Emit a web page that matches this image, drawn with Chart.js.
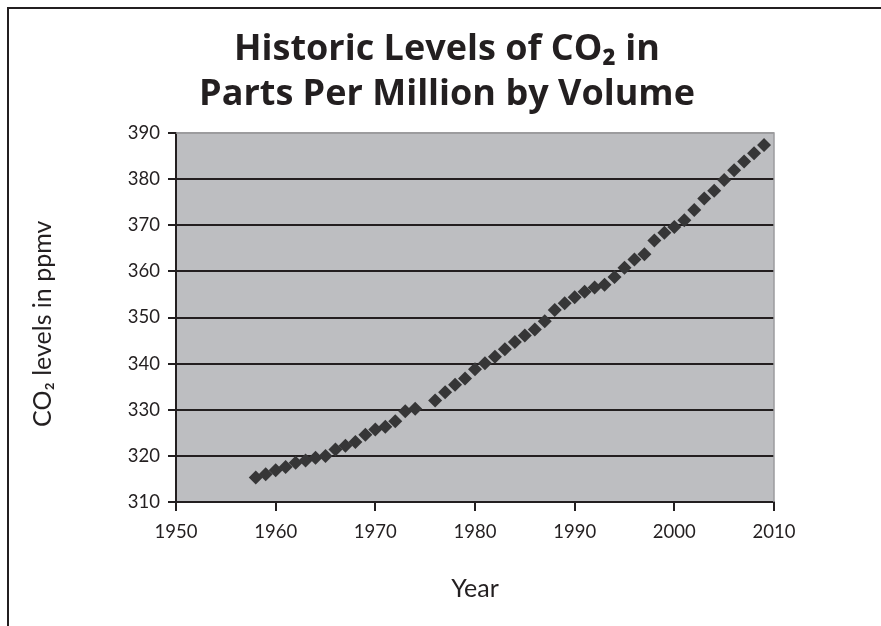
<!DOCTYPE html>
<html>
<head>
<meta charset="utf-8">
<script src="https://cdn.jsdelivr.net/npm/chart.js@4"></script>
<style>
  html, body { margin: 0; padding: 0; background: #ffffff; }
  #wrap { position: relative; width: 881px; height: 626px; }
  #frame { position: absolute; left: 7px; top: 7px; right: 0; bottom: 0;
           border-left: 2px solid #231f20; border-top: 2px solid #231f20; pointer-events: none; }
</style>
</head>
<body>
<div id="wrap">
  <canvas id="c" width="881" height="626"></canvas>
  <div id="frame"></div>
</div>
<script>
// Data (annual mean CO2, ppmv); 1975 absent in the chart
const years = [1958,1959,1960,1961,1962,1963,1964,1965,1966,1967,1968,1969,1970,1971,1972,1973,1974,
  1976,1977,1978,1979,1980,1981,1982,1983,1984,1985,1986,1987,1988,1989,1990,1991,1992,1993,1994,
  1995,1996,1997,1998,1999,2000,2001,2002,2003,2004,2005,2006,2007,2008,2009];
const co2 = [315.3,316.0,316.9,317.6,318.5,319.0,319.6,320.0,321.4,322.2,323.0,324.6,325.7,326.3,327.5,329.7,330.2,
  332.0,333.8,335.4,336.8,338.8,340.1,341.5,343.1,344.7,346.1,347.4,349.2,351.6,353.1,354.4,355.6,356.5,357.1,358.8,
  360.8,362.6,363.7,366.7,368.4,369.6,371.1,373.3,375.8,377.5,379.8,381.9,383.8,385.6,387.4];
const xTicks = [1950,1960,1970,1980,1990,2000,2010];
const yTicks = [310,320,330,340,350,360,370,380,390];
const titleLines = ["Historic Levels of CO\u2082 in", "Parts Per Million by Volume"];
const yTitle = "CO\u2082 levels in ppmv\u2002";
const xTitle = "Year";

const FONT = "Lato, 'DejaVu Sans', sans-serif";
const TFONT = "'Open Sans', 'DejaVu Sans', sans-serif";
const INK = '#231f20';

const plotBg = {
  id: 'plotBg',
  beforeDraw(chart) {
    const {ctx, chartArea: a} = chart;
    ctx.save();
    ctx.fillStyle = '#bdbec1';
    ctx.fillRect(a.left, a.top, a.right - a.left, a.bottom - a.top);
    ctx.restore();
  },
  afterDraw(chart) {
    const {ctx, chartArea: a} = chart;
    ctx.save();
    ctx.strokeStyle = '#9c9c9e';
    ctx.lineWidth = 1.5;
    ctx.beginPath();
    ctx.moveTo(a.left, a.top);
    ctx.lineTo(a.right, a.top);
    ctx.lineTo(a.right, a.bottom);
    ctx.stroke();
    ctx.restore();
  }
};

const points = years.map((y, i) => ({x: y, y: co2[i]}));

new Chart(document.getElementById('c'), {
  type: 'scatter',
  data: {
    datasets: [{
      data: points,
      pointStyle: 'rectRot',
      pointRadius: 7,
      pointHoverRadius: 7,
      backgroundColor: '#363637',
      borderWidth: 0,
      showLine: false
    }]
  },
  options: {
    responsive: false,
    animation: false,
    events: [],
    layout: { padding: { left: 13, right: 0, top: 0, bottom: 0 } },
    plugins: {
      legend: { display: false },
      tooltip: { enabled: false },
      title: {
        display: true,
        text: titleLines,
        color: INK,
        font: { family: TFONT, size: 36, weight: 'bold', lineHeight: 1.25 },
        padding: { top: 27, bottom: 16 }
      }
    },
    scales: {
      x: {
        type: 'linear',
        min: 1950, max: 2010,
        afterBuildTicks(s) { s.ticks = xTicks.map(v => ({value: v})); },
        afterFit(s) { s.height = 124; },
        ticks: { color: INK, font: { family: FONT, size: 18.5 }, padding: 10,
                 callback: v => String(v) },
        grid: { drawOnChartArea: false, drawTicks: true, tickLength: 9, color: INK, lineWidth: 2 },
        border: { display: true, color: INK, width: 2 },
        title: { display: true, text: xTitle, color: INK,
                 font: { family: FONT, size: 25 }, padding: { top: 0, bottom: 22 } }
      },
      y: {
        type: 'linear',
        min: 310, max: 390,
        afterBuildTicks(s) { s.ticks = yTicks.map(v => ({value: v})); },
        afterFit(s) { s.width = 163; },
        ticks: { color: INK, font: { family: FONT, size: 18.5 }, padding: 8,
                 callback: v => String(v) },
        grid: { drawTicks: true, tickLength: 8, lineWidth: 2,
                color: c => (c.tick && c.tick.value === 390) ? '#9c9c9e' : INK,
                tickColor: INK },
        border: { display: true, color: INK, width: 2 },
        title: { display: true, text: yTitle, color: INK,
                 font: { family: FONT, size: 25 }, padding: { top: 15, bottom: 0 } }
      },
      yPad: {
        type: 'linear',
        position: 'right',
        display: true,
        afterFit(s) { s.width = 107; },
        ticks: { display: false },
        grid: { display: false, drawTicks: false },
        border: { display: false },
        title: { display: false }
      }
    }
  },
  plugins: [plotBg]
});
</script>
</body>
</html>
